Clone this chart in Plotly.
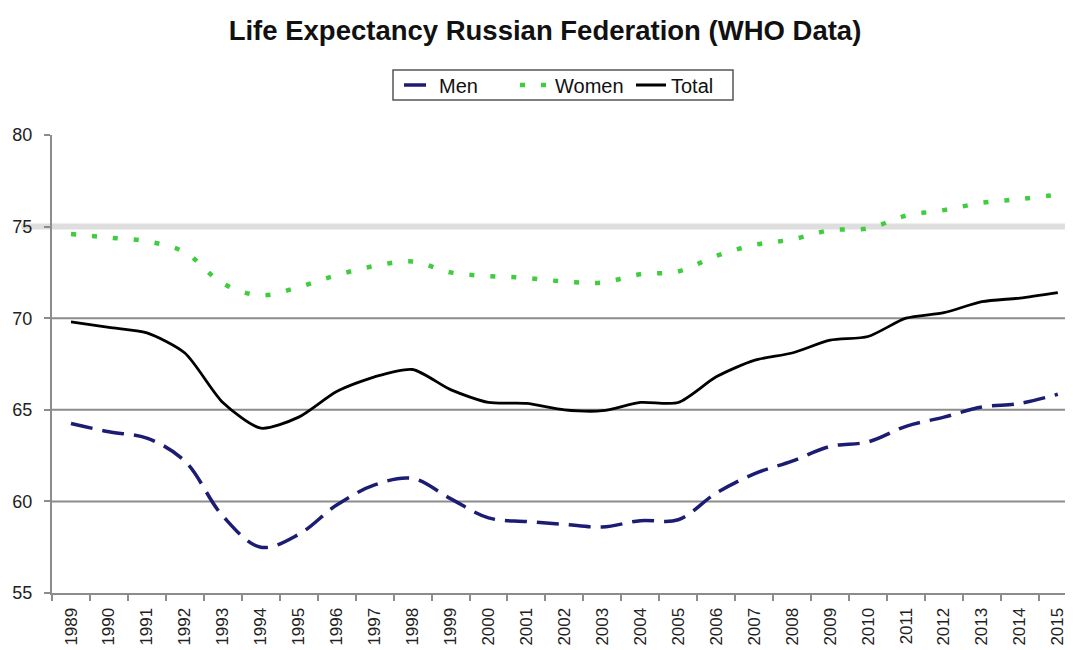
import plotly.graph_objects as go

years = [str(y) for y in range(1989, 2016)]
men = [64.25, 63.8, 63.45, 62.2, 59.2, 57.5, 58.2, 59.8, 60.9, 61.25, 60.15, 59.1, 58.9, 58.75,
       58.6, 58.95, 59.0, 60.45, 61.5, 62.2, 63.0, 63.25, 64.1, 64.6, 65.15, 65.35, 65.85]
women = [74.6, 74.4, 74.2, 73.6, 71.9, 71.25, 71.7, 72.35, 72.85, 73.1, 72.5, 72.3, 72.2, 72.0,
         71.95, 72.4, 72.55, 73.4, 74.0, 74.3, 74.8, 74.9, 75.6, 75.9, 76.3, 76.5, 76.75]
total = [69.8, 69.5, 69.2, 68.1, 65.4, 64.0, 64.6, 66.0, 66.8, 67.2, 66.1, 65.4, 65.35, 65.0,
         64.95, 65.4, 65.4, 66.8, 67.7, 68.1, 68.8, 69.0, 70.0, 70.3, 70.9, 71.1, 71.4]
y_ticks = [55, 60, 65, 70, 75, 80]
grid_levels = [60, 65, 70]
light_level = 75

FONT = "Arial, 'Liberation Sans', sans-serif"
W, H = 1065, 642  # page body adds an 8px offset
PLOT_H = 458
PLOT_W = 1021

fig = go.Figure()
fig.add_trace(go.Scatter(x=years, y=men, name="Men", mode="lines",
                         line=dict(color="#1c1c74", width=3.5, dash="22px,10px",
                                   shape="spline", smoothing=1.0)))
fig.add_trace(go.Scatter(x=years, y=women, name="Women", mode="lines",
                         line=dict(color="#3fcc3f", width=4.5, dash="5px,16px",
                                   shape="spline", smoothing=1.0)))
fig.add_trace(go.Scatter(x=years, y=total, name="Total", mode="lines",
                         line=dict(color="#000000", width=2.8,
                                   shape="spline", smoothing=0.7)))

for lv in grid_levels:
    fig.add_shape(type="line", xref="paper", x0=0, x1=1, yref="y", y0=lv, y1=lv,
                  line=dict(color="#8c8c8c", width=2), layer="below")
fig.add_shape(type="line", xref="paper", x0=-0.03, x1=1, yref="y", y0=light_level, y1=light_level,
              line=dict(color="#dedede", width=6), layer="below")
# legend frame
fig.add_shape(type="rect", xref="paper", yref="paper",
              x0=(393 - 52) / PLOT_W, x1=(733 - 52) / PLOT_W,
              y0=1 + (135 - 100) / PLOT_H, y1=1 + (135 - 70) / PLOT_H,
              line=dict(color="#555555", width=1.5), fillcolor="rgba(0,0,0,0)")

fig.update_layout(
    width=W, height=H,
    margin=dict(l=44, r=0, t=127, b=57, autoexpand=False),
    paper_bgcolor="white", plot_bgcolor="white",
    font=dict(family=FONT, color="#222222"),
    title=dict(text="<b>Life Expectancy Russian Federation (WHO Data)</b>",
               x=(545 - 8) / W, xref="container", xanchor="center",
               y=1 - 22 / H, yref="container", yanchor="middle",
               font=dict(size=27.5, color="#111111", family=FONT)),
    legend=dict(orientation="h", x=(399 - 52) / PLOT_W, xanchor="left",
                y=1 + (135 - 85) / PLOT_H, yanchor="middle",
                borderwidth=0, bgcolor="rgba(0,0,0,0)",
                font=dict(size=20, color="#111111"),
                entrywidth=71, entrywidthmode="pixels", tracegroupgap=0,
                itemwidth=30),
    showlegend=True,
)

fig.update_xaxes(type="category", categoryorder="array", categoryarray=years,
                 range=[-0.5, 26.4], tickson="boundaries", ticks="outside", ticklen=6,
                 tickcolor="#8c8c8c", tickwidth=1.5, showline=True, linecolor="#8c8c8c",
                 linewidth=2, showgrid=False, zeroline=False, tickangle=-90,
                 tickfont=dict(size=17, color="#222222"), ticklabelstandoff=6,
                 automargin=False)
fig.update_yaxes(range=[55, 80], tickmode="array", tickvals=y_ticks, ticks="outside",
                 ticklen=6, tickcolor="#8c8c8c", tickwidth=1.5, showline=True,
                 linecolor="#8c8c8c", linewidth=2, showgrid=False, zeroline=False,
                 tickfont=dict(size=18, color="#222222"), ticklabelstandoff=8,
                 automargin=False)

fig.write_html("out.html")
